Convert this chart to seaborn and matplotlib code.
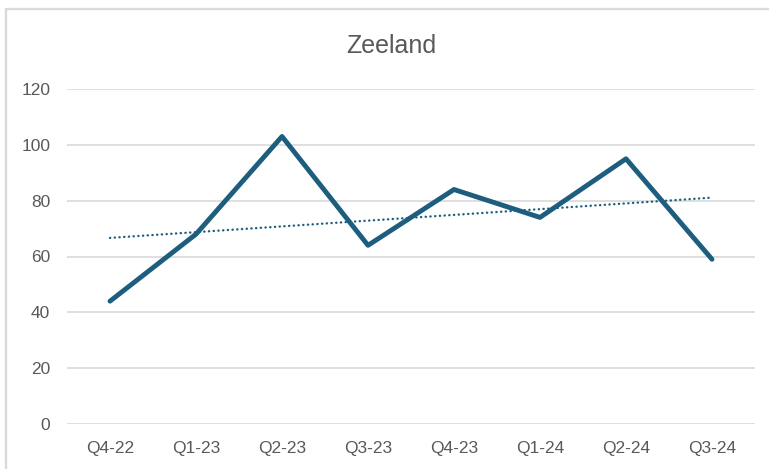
import matplotlib.pyplot as plt
import seaborn as sns
import pandas as pd
import numpy as np
from matplotlib.lines import Line2D

# Data
quarters = ['Q4-22', 'Q1-23', 'Q2-23', 'Q3-23', 'Q4-23', 'Q1-24', 'Q2-24', 'Q3-24']
values = [44, 68, 103, 64, 84, 74, 95, 59]

df = pd.DataFrame({'Quarter': quarters, 'Value': values})
df['idx'] = np.arange(len(df))

# Linear trendline (as in Excel)
slope, intercept = np.polyfit(df['idx'], df['Value'], 1)
df['Trend'] = intercept + slope * df['idx']

sns.set_style('white')
plt.rcParams['font.family'] = ['Liberation Sans', 'DejaVu Sans']

text_color = '#595959'
line_color = '#1D5D7D'
grid_color = '#D9D9D9'

fig = plt.figure(figsize=(7.69, 4.69), dpi=100)
ax = fig.add_axes([67 / 769, 1 - 424 / 469, (755 - 67) / 769, (424 - 89) / 469])

sns.lineplot(data=df, x='idx', y='Trend', color=line_color, linewidth=1.7,
             linestyle=(0, (0.1, 1.9)), dash_capstyle='round', ax=ax)
sns.lineplot(data=df, x='idx', y='Value', color=line_color, linewidth=3.5,
             ax=ax)

ax.set_xlim(-0.5, len(df) - 0.5)
ax.set_ylim(0, 120)
ax.set_yticks(range(0, 121, 20))
ax.set_xticks(df['idx'])
ax.set_xticklabels(quarters)
ax.set_xlabel('')
ax.set_ylabel('')
ax.yaxis.grid(True, color=grid_color, linewidth=1.2)
ax.set_axisbelow(True)
for s in ax.spines.values():
    s.set_visible(False)
ax.tick_params(axis='both', length=0, pad=12, labelsize=12.5, labelcolor=text_color)
for line in ax.get_lines():
    line.set_clip_on(False)

fig.text(391 / 769, 1 - 53 / 469, 'Zeeland', ha='center', va='baseline',
         fontsize=18, color=text_color)

# Chart frame (light gray border, partly cut off)
fig.add_artist(Line2D([5.5 / 769, 5.5 / 769], [0, 1 - 9 / 469], transform=fig.transFigure,
                      color=grid_color, linewidth=1.6))
fig.add_artist(Line2D([5.5 / 769, 1], [1 - 9 / 469, 1 - 9 / 469], transform=fig.transFigure,
                      color=grid_color, linewidth=1.6))

fig.savefig('out.png', dpi=100)
